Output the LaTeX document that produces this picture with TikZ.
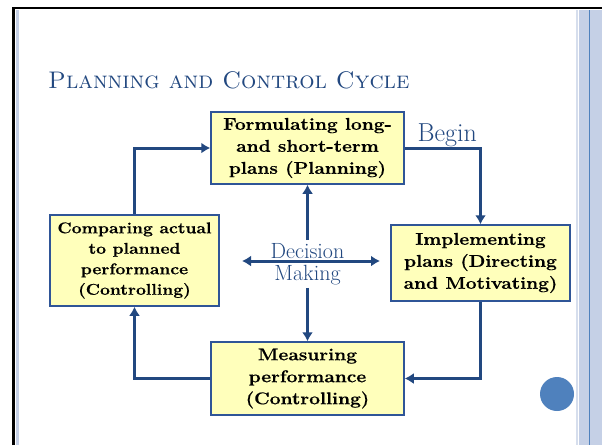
\documentclass[tikz,border=0pt]{standalone}
\usepackage{fontspec}
\newfontfamily\boxfont{Latin Modern Roman}[FakeStretch=1.13,FakeBold=0.6]
\usetikzlibrary{arrows.meta}
\definecolor{cycleblue}{RGB}{34,72,128}
\definecolor{boxyellow}{RGB}{255,255,187}
\definecolor{boxedge}{RGB}{47,85,151}
\definecolor{bandblue}{RGB}{197,208,230}
\definecolor{dotblue}{RGB}{79,129,189}
\tikzset{
    node style box/.style={draw=boxedge,line width=1.5pt,fill=boxyellow,align=center,inner sep=2pt,%
        font=\boxfont\bfseries\fontsize{17}{22}\selectfont},
    node style blue/.style={text=cycleblue,align=center,font=\fontsize{22}{22}\selectfont},
    arrow style cycle/.style={draw=cycleblue,line width=3pt},
}
\begin{document}
\begin{tikzpicture}[x=1pt,y=-1pt,>={Latex[length=9pt,width=11pt]}]
\useasboundingbox (0,0) rectangle (602,445);
% le cadre
\fill[white] (0,0) rectangle (602,445);
\fill[bandblue] (579,10) rectangle (602,445);
\draw[bandblue!70!white,line width=2pt] (577,10) -- (577,445);
\draw[dotblue,line width=1pt] (589,10) -- (589,445);
\draw[black,line width=2.5pt] (13.5,445) -- (13.5,8) -- (602,8);
\draw[bandblue,line width=3pt] (17.5,10) -- (17.5,445);
\fill[dotblue] (557,394) circle[radius=17pt];
% le titre
\node[anchor=base west,text=cycleblue,inner sep=0pt,font=\fontsize{24}{26}\selectfont]
(title) at (48,88) {\textsc{Planning and Control Cycle}};
% les boites
\node[node style box,minimum width=193pt,minimum height=72pt] (plan) at (307.5,148)
{Formulating long-\\and short-term\\plans (Planning)};
\node[node style box,minimum width=179pt,minimum height=76pt] (impl) at (480.5,263)
{Implementing\\plans (Directing\\and Motivating)};
\node[node style box,minimum width=169pt,minimum height=91pt,%
font=\boxfont\bfseries\fontsize{15.5}{20.5}\selectfont] (comp) at (134.5,260.5)
{Comparing actual\\to planned\\performance\\(Controlling)};
\node[node style box,minimum width=193pt,minimum height=73pt] (meas) at (307.5,378.5)
{Measuring\\performance\\(Controlling)};
\node[node style blue,inner sep=3pt] (dm) at (307.5,264) {Decision\\Making};
\coordinate (dl) at (242,261);
\coordinate (dr) at (380,261);
% les fleches
\draw[arrow style cycle,->] (plan.east) -| node[node style blue,pos=0.28,above=-1pt,inner sep=1pt,%
font=\fontsize{26}{26}\selectfont] (begin) {Begin} (impl.north);
\draw[arrow style cycle,->] (impl.south) |- (meas.east);
\draw[arrow style cycle,->] (meas.west) -| (comp.south);
\draw[arrow style cycle,->] (comp.north) |- (plan.west);
\draw[arrow style cycle,->] (dm.north) -- (plan.south);
\draw[arrow style cycle,->] (dm.south) -- (meas.north);
\draw[arrow style cycle,<->] (dl) -- (dr);
\end{tikzpicture}
\end{document}
